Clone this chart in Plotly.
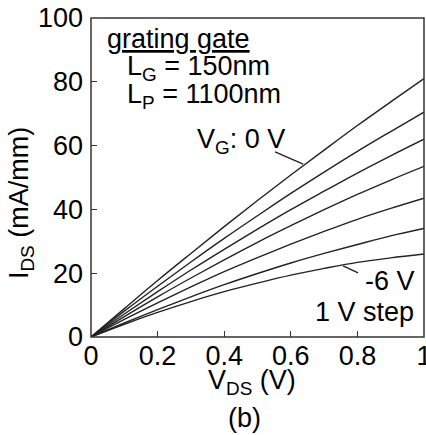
import plotly.graph_objects as go

vds = [0.0, 0.1, 0.2, 0.3, 0.4, 0.5, 0.6, 0.7, 0.8, 0.9, 1.0]
vg_labels = ["0 V", "-1 V", "-2 V", "-3 V", "-4 V", "-5 V", "-6 V"]
ids_0 = [0, 8.9, 17.7, 26.2, 34.6, 42.8, 50.8, 58.6, 66.3, 73.7, 81.0]
ids_1 = [0, 8.1, 15.9, 23.5, 30.9, 38.0, 45.0, 51.7, 58.2, 64.4, 70.5]
ids_2 = [0, 7.2, 14.2, 21.0, 27.5, 33.8, 39.9, 45.7, 51.4, 56.8, 62.0]
ids_3 = [0, 6.4, 12.6, 18.5, 24.2, 29.7, 34.9, 39.9, 44.7, 49.2, 53.5]
ids_4 = [0, 5.5, 10.7, 15.7, 20.5, 24.9, 29.1, 33.1, 36.9, 40.3, 43.5]
ids_5 = [0, 4.4, 8.6, 12.6, 16.4, 19.9, 23.2, 26.2, 29.0, 31.7, 34.0]
ids_6 = [0, 4.0, 7.7, 11.1, 14.2, 16.9, 19.4, 21.5, 23.4, 24.8, 26.0]
series = [ids_0, ids_1, ids_2, ids_3, ids_4, ids_5, ids_6]

x_ticks = [0, 0.2, 0.4, 0.6, 0.8, 1]
y_ticks = [0, 20, 40, 60, 80, 100]

FONT = "Liberation Sans, Arial, Helvetica, sans-serif"
FS = 27

fig = go.Figure()
for name, ys in zip(vg_labels, series):
    fig.add_trace(go.Scatter(x=vds, y=ys, mode="lines", name=name,
                             line=dict(color="#222222", width=1.4, shape="spline")))

axis_common = dict(ticks="inside", ticklen=6, tickwidth=1.2, tickcolor="#333",
                   showgrid=False, zeroline=False, showline=False, automargin=False,
                   ticklabeloverflow="allow",
                   tickfont=dict(size=FS, color="black", family=FONT))
fig.update_xaxes(range=[0, 1], tickvals=x_ticks, ticktext=[str(t) for t in x_ticks],
                 ticklabelstandoff=0, **axis_common)
fig.update_yaxes(range=[0, 100], tickvals=y_ticks, ticklabelstandoff=7, **axis_common)

fig.add_shape(type="rect", xref="paper", yref="paper", x0=0, x1=1, y0=0, y1=1,
              line=dict(color="#333", width=1.5))

# leader lines
fig.add_shape(type="line", x0=0.553, y0=58.0, x1=0.637, y1=54.2, line=dict(color="#222", width=1.4))
fig.add_shape(type="line", x0=0.757, y0=22.3, x1=0.802, y1=20.1, line=dict(color="#222", width=1.4))

ann_font = dict(size=FS, color="black", family=FONT)
anns = [
    dict(text="<u>grating gate</u>", x=0.042, y=93.5, xanchor="left"),
    dict(text="L<sub>G</sub> = 150nm", x=0.102, y=84.3, xanchor="left"),
    dict(text="L<sub>P</sub> = 1100nm", x=0.102, y=75.6, xanchor="left"),
    dict(text="V<sub>G</sub>: 0 V", x=0.312, y=61.4, xanchor="left"),
    dict(text="-6 V", x=0.817, y=17.6, xanchor="left"),
    dict(text="1 V step", x=0.975, y=7.8, xanchor="right"),
]
for a in anns:
    fig.add_annotation(xref="x", yref="y", yanchor="middle", showarrow=False, font=ann_font, **a)

fig.add_annotation(text="V<sub>DS</sub> (V)", xref="paper", yref="paper", x=0.483, y=-0.14,
                   showarrow=False, font=ann_font, xanchor="center", yanchor="middle")
fig.add_annotation(text="I<sub>DS</sub> (mA/mm)", xref="paper", yref="paper", x=-0.21, y=0.42,
                   textangle=-90, showarrow=False, font=ann_font, xanchor="center", yanchor="middle")
fig.add_annotation(text="(b)", xref="paper", yref="paper", x=0.46, y=-0.255,
                   showarrow=False, font=ann_font, xanchor="center", yanchor="middle")

fig.update_layout(width=426, height=435, margin=dict(l=91, r=2, t=18, b=98),
                  plot_bgcolor="white", paper_bgcolor="white", showlegend=False,
                  font=dict(family=FONT, color="black"))
fig.write_html("out.html")
